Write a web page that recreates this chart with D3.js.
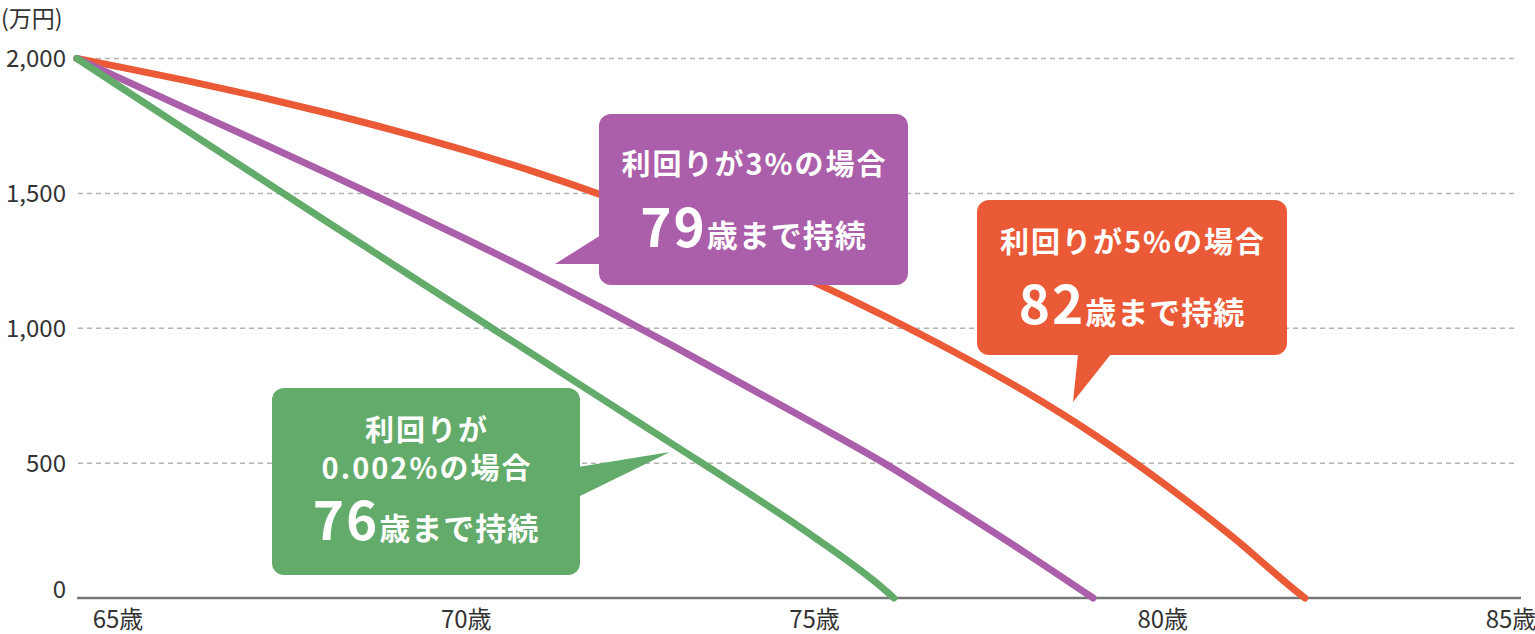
<!DOCTYPE html>
<html>
<head>
<meta charset="utf-8">
<script src="https://cdn.jsdelivr.net/npm/d3@7"></script>
<style>
  body { margin: 0; background: #fff; }
  svg text { font-family: "Noto Sans CJK JP", "Noto Sans", sans-serif; }
</style>
</head>
<body>
<svg id="chart" width="1535" height="634"></svg>
<script>
// ages (x) and balance in 万円 (y) per scenario
var ageTicks = [65, 70, 75, 80, 85];
var yTicks = [0, 500, 1000, 1500, 2000];

var rate0Ages = [64.41, 65, 66, 67, 68, 69, 70, 71, 72, 73, 74, 75, 76, 76.14];
var rate0Balance = [2000, 1900, 1731, 1563, 1395, 1228, 1062, 896, 730, 564, 398, 225, 32, 0];

var rate3Ages = [64.41, 65, 66, 67, 68, 69, 70, 71, 72, 73, 74, 75, 76, 77, 78, 79];
var rate3Balance = [2000, 1930, 1812, 1694, 1575, 1454, 1330, 1202, 1068, 930, 788, 646, 500, 338, 172, 0];

var rate5Ages = [64.41, 65, 66, 67, 68, 69, 70, 71, 72, 73, 74, 75, 76, 77, 78, 79, 80, 81, 82, 82.04];
var rate5Balance = [2000, 1970, 1917, 1860, 1798, 1731, 1658, 1578, 1489, 1391, 1285, 1170, 1046, 913, 769, 608, 427, 227, 8, 0];

var seriesNames = ['rate5', 'rate3', 'rate0'];
var calloutTitles = [['利回りが5%の場合'], ['利回りが3%の場合'], ['利回りが', '0.002%の場合']];
var calloutAges = ['82', '79', '76'];
var calloutSuffix = '歳まで持続';

var colors = { rate5: '#eb5a37', rate3: '#ab5ea9', rate0: '#63ab6a' };

var svg = d3.select('#chart');

var x = d3.scaleLinear().domain([65, 85]).range([118, 1511]);
var y = d3.scaleLinear().domain([0, 2000]).range([598, 58.5]);

// gridlines
svg.append('g').selectAll('line.grid')
    .data(yTicks.filter(function(d) { return d > 0; }))
    .enter()
    .append('line')
    .attr('x1', 78)
    .attr('x2', 1518)
    .attr('y1', function(d) { return y(d); })
    .attr('y2', function(d) { return y(d); })
    .style('stroke', '#b3b3b3')
    .style('stroke-width', 1.5)
    .style('stroke-dasharray', '5,4');

// y labels
svg.append('g').selectAll('text')
    .data(yTicks)
    .enter()
    .append('text')
    .attr('x', 66)
    .attr('y', function(d) { return Math.min(y(d), y(0) - 8); })
    .attr('dy', '0.35em')
    .attr('text-anchor', 'end')
    .style('font-size', '24px')
    .style('fill', '#333')
    .text(function(d) { return d3.format(',')(d); });

svg.append('text')
    .attr('x', 1)
    .attr('y', 27)
    .style('font-size', '23px')
    .style('fill', '#333')
    .text('(万円)');

// x axis
svg.append('line')
    .attr('x1', 77).attr('x2', 1521)
    .attr('y1', y(0)).attr('y2', y(0))
    .style('stroke', '#777')
    .style('stroke-width', 2.5);

svg.append('g').selectAll('text')
    .data(ageTicks)
    .enter()
    .append('text')
    .attr('x', function(d) { return x(d); })
    .attr('y', 628)
    .attr('text-anchor', 'middle')
    .style('font-size', '24px')
    .style('fill', '#333')
    .text(function(d) { return d + '歳'; });

// lines
var line = d3.line()
    .x(function(d) { return x(d[0]); })
    .y(function(d) { return y(d[1]); })
    .curve(d3.curveMonotoneX);

var series = {
    rate5: d3.zip(rate5Ages, rate5Balance),
    rate3: d3.zip(rate3Ages, rate3Balance),
    rate0: d3.zip(rate0Ages, rate0Balance)
};

svg.append('g').selectAll('path')
    .data(seriesNames)
    .enter()
    .append('path')
    .attr('d', function(d) { return line(series[d]); })
    .style('fill', 'none')
    .style('stroke', function(d) { return colors[d]; })
    .style('stroke-width', 7)
    .style('stroke-linecap', 'round')
    .style('stroke-linejoin', 'round');

// callouts (box, tail, text lines)
var boxes = [
    { x: 977, y: 200, w: 310, h: 155, tail: [[1078, 354], [1111, 354], [1073, 402]], lines: [253], big: 324 },
    { x: 599, y: 114, w: 309, h: 171, tail: [[601, 235], [601, 264], [555, 264]], lines: [175], big: 247 },
    { x: 272, y: 388, w: 308, h: 187, tail: [[578, 467], [578, 497], [670, 452]], lines: [441, 479], big: 540 }
];

boxes.forEach(function(b, i) {
    var g = svg.append('g');
    var c = colors[seriesNames[i]];
    g.append('rect')
        .attr('x', b.x).attr('y', b.y)
        .attr('width', b.w).attr('height', b.h)
        .attr('rx', 12)
        .style('fill', c);
    g.append('polygon')
        .attr('points', b.tail.map(function(p) { return p.join(','); }).join(' '))
        .style('fill', c);
    var cx = b.x + b.w / 2;
    calloutTitles[i].forEach(function(t, j) {
        g.append('text')
            .attr('x', cx + 1)
            .attr('y', b.lines[j])
            .attr('text-anchor', 'middle')
            .style('font-size', '29px')
            .style('letter-spacing', '2px')
            .style('font-weight', 700)
            .style('fill', '#fff')
            .text(t);
    });
    var t2 = g.append('text')
        .attr('x', cx)
        .attr('y', b.big)
        .attr('text-anchor', 'middle')
        .style('fill', '#fff')
        .style('font-weight', 700);
    t2.append('tspan').style('font-size', '53px').style('letter-spacing', '2px').text(calloutAges[i]);
    t2.append('tspan').style('font-size', '31px').style('letter-spacing', '1px').text(calloutSuffix);
});
</script>
</body>
</html>
